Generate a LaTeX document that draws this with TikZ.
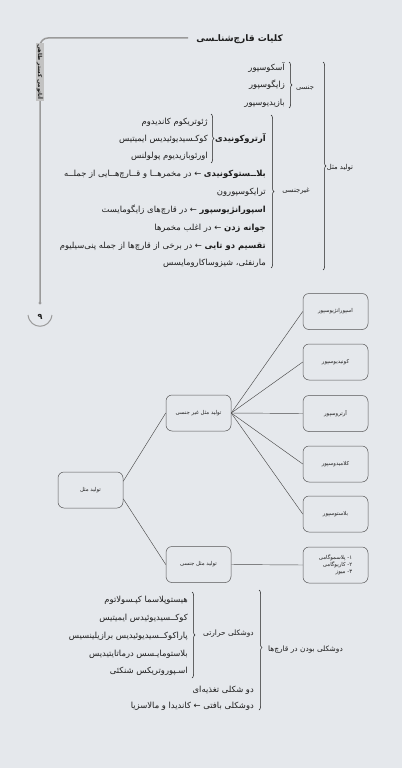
\documentclass[tikz,border=0pt]{standalone}
\usepackage{fontspec}
\usetikzlibrary{decorations.pathreplacing}
\newfontfamily\fa[Script=Arabic]{DejaVu Sans}
\TeXXeTstate=1
\definecolor{bg}{HTML}{E5E8EC}
\definecolor{ink}{HTML}{1E1E1E}
\definecolor{rulec}{HTML}{9A9A9A}
\newcommand\rtl[1]{\beginR #1\endR}
\newcommand\zw{^^^^200c}
\newcommand\kk{^^^^0640}
\tikzset{
 fat/.style={font=\fa\fontsize{8.4}{10}\selectfont, text=ink, inner sep=0pt, anchor=east},
 fab/.style={font=\fa\bfseries\fontsize{8.4}{10}\selectfont, text=ink, inner sep=0pt, anchor=east},
 lab/.style={font=\fa\fontsize{6.8}{8}\selectfont, text=ink, inner sep=0pt},
 rbrace/.style={draw=ink, line width=0.5pt, decorate, decoration={brace, amplitude=3pt, aspect=#1}},
 box/.style={draw=ink!75, line width=0.5pt, rounded corners=6pt, minimum width=65pt, minimum height=36pt, inner sep=1pt, font=\fa\fontsize{5.4}{7.2}\selectfont, text=ink, align=right},
 link/.style={draw=ink!80, line width=0.45pt},
 sidebar/.style={draw=rulec, line width=1.5pt},
}
\begin{document}
\begin{tikzpicture}[x=1pt,y=-1pt]
\fill[bg] (0,0) rectangle (402,768);
\useasboundingbox (0,0) rectangle (402,768);

% header and sidebar
\node[font=\fa\bfseries\fontsize{9}{11}\selectfont, text=ink, inner sep=0pt, anchor=east] (head) at (283,39) {\rtl{کلیات قارچ\zw شنا\kk سی}};
\draw[sidebar, rounded corners=8pt] (40,303) -- (40,38) -- (188,38);
\node[font=\fa\bfseries\fontsize{5.5}{6}\selectfont, text=ink, fill=rulec!60, inner sep=1pt, rotate=-90] (side) at (40,72) {\rtl{آناتومی کستر طاهی}};
\fill[rulec] (40,303) circle (1.6pt);
\node[font=\fa\bfseries\fontsize{8}{9}\selectfont, text=ink, inner sep=0pt] (pg) at (40,317) {۹};
\draw[rulec, line width=1pt] (28,315) .. controls (30,330) and (50,330) .. (52,315);

% top tree
\node[lab] (t0) at (340,168) {\rtl{تولید مثل}};
\draw[rbrace=0.5] (323,62) -- (323,270);
\node[lab] (s1) at (305,88) {\rtl{جنسی}};
\draw[rbrace=0.5] (289,62) -- (289,108);
\node[fat] (s1a) at (285,68) {\rtl{آسکوسپور}};
\node[fat] (s1b) at (285,85) {\rtl{زایگوسپور}};
\node[fat] (s1c) at (285,103) {\rtl{بازیدیوسپور}};
\node[lab] (s2) at (296,191) {\rtl{غیرجنسی}};
\draw[rbrace=0.5] (271,115) -- (271,268);
\node[fab] (a0) at (266,139) {\rtl{آرتروکونیدی}};
\draw[rbrace=0.5] (211,114) -- (211,163);
\node[fat] (a1) at (208,122) {\rtl{ژئوتریکوم کاندیدوم}};
\node[fat] (a2) at (208,139) {\rtl{کوک\kk سیدیوئیدیس ایمیتیس}};
\node[fat] (a3) at (208,156) {\rtl{اورئوبازیدیوم پولولنس}};
\node[fat] (b1) at (266,174) {\rtl{{\bfseries بلا\kk\kk ستوکونیدی} ← در مخمره\kk\kk ا و ق\kk\kk ارچ\zw ه\kk\kk ایی از جمل\kk\kk ه}};
\node[fat] (b2) at (266,192) {\rtl{ترایکوسپورون}};
\node[fat] (b3) at (266,210) {\rtl{{\bfseries اسپورانژیوسپور} ← در قارچ\zw های زایگومایست}};
\node[fat] (b4) at (266,228) {\rtl{{\bfseries جوانه زدن} ← در اغلب مخمرها}};
\node[fat] (b5) at (266,246) {\rtl{{\bfseries تقسیم دو تایی} ← در برخی از قارچ\zw ها از جمله پنی\zw سیلیوم}};
\node[fat] (b6) at (266,263) {\rtl{مارنفئی، شیزوساکارومایسس}};

% middle diagram
\node[box] (r1) at (335.5,311.5) {\rtl{اسپورانژیوسپور}};
\node[box] (r2) at (335.5,362) {\rtl{کونیدیوسپور}};
\node[box] (r3) at (335.5,413.5) {\rtl{آرتروسپور}};
\node[box] (r4) at (335.5,464) {\rtl{کلامیدوسپور}};
\node[box] (r5) at (335.5,514) {\rtl{بلاستوسپور}};
\node[box] (r6) at (335.5,565) {\rtl{۱\kern0pt-\ پلاسموگامی}\\\rtl{۲\kern0pt-\ کاریوگامی}\\\rtl{۳\kern0pt-\ میوز}};
\node[box] (ma) at (198.5,413) {\rtl{تولید مثل غیر جنسی}};
\node[box] (mb) at (198.5,564.5) {\rtl{تولید مثل جنسی}};
\node[box] (lb) at (90.5,490) {\rtl{تولید مثل}};
\draw[link] (lb.15) -- (ma.west);
\draw[link] (lb.-15) -- (mb.west);
\draw[link] (ma.east) -- (r1.west);
\draw[link] (ma.east) -- (r2.west);
\draw[link] (ma.east) -- (r3.west);
\draw[link] (ma.east) -- (r4.west);
\draw[link] (ma.east) -- (r5.west);
\draw[link] (mb.east) -- (r6.west);

% bottom tree
\node[lab, font=\fa\fontsize{7.4}{9}\selectfont, anchor=west] (d0) at (268,650) {\rtl{دوشکلی بودن در قارچ\zw ها}};
\draw[rbrace=0.48] (259,590) -- (259,710);
\node[lab, font=\fa\fontsize{7.4}{9}\selectfont, anchor=east] (d1) at (254,634) {\rtl{دوشکلی حرارتی}};
\draw[rbrace=0.5] (192,592) -- (192,678);
\node[fat] (e1) at (188,600) {\rtl{هیستوپلاسما کپ\kk سولاتوم}};
\node[fat] (e2) at (188,618) {\rtl{کوک\kk\kk سیدیوئیدس ایمیتیس}};
\node[fat] (e3) at (188,636) {\rtl{پاراکوک\kk\kk سیدیوئیدیس برازیلینسیس}};
\node[fat] (e4) at (188,654) {\rtl{بلاستومای\kk سس درماتایتیدیس}};
\node[fat] (e5) at (188,671) {\rtl{اس\kk پوروتریکس شنکئی}};
\node[fat] (d2) at (254,690) {\rtl{دو شکلی تغذیه\zw ای}};
\node[fat] (d3) at (254,706) {\rtl{دوشکلی بافتی ← کاندیدا و مالاسزیا}};
\end{tikzpicture}
\end{document}
